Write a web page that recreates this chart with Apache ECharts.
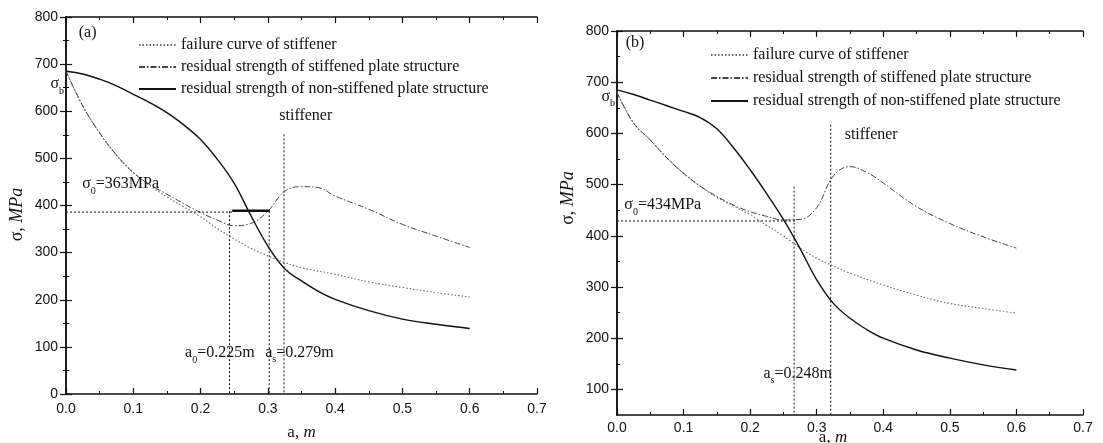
<!DOCTYPE html>
<html>
<head>
<meta charset="utf-8">
<script src="https://cdn.jsdelivr.net/npm/echarts@6/dist/echarts.min.js"></script>
<style>
  html, body { margin: 0; background: #fff; }
  #main { width: 1103px; height: 443px; }
</style>
</head>
<body>
<div id="main"></div>
<script>
var NAMES = [
  'failure curve of stiffener',
  'residual strength of stiffened plate structure',
  'residual strength of non-stiffened plate structure'
];

// panel (a)
var aFailX = [0, 0.025, 0.05, 0.075, 0.1, 0.125, 0.15, 0.175, 0.2, 0.225, 0.25, 0.275, 0.3, 0.325, 0.35, 0.4, 0.45, 0.5, 0.55, 0.6];
var aFailY = [685, 611, 554, 507, 470, 442, 418, 397, 376, 351, 329, 309, 293, 279, 268, 254, 238, 226, 215, 206];
var aStiffX = [0, 0.025, 0.05, 0.075, 0.1, 0.125, 0.15, 0.175, 0.2, 0.225, 0.25, 0.275, 0.3, 0.325, 0.35, 0.375, 0.4, 0.45, 0.5, 0.55, 0.6];
var aStiffY = [685, 611, 554, 507, 470, 444, 424, 404, 385, 369, 357, 362, 388, 430, 440, 438, 420, 392, 360, 335, 311];
var aPlateX = [0, 0.025, 0.05, 0.075, 0.1, 0.125, 0.15, 0.175, 0.2, 0.225, 0.25, 0.275, 0.3, 0.325, 0.35, 0.375, 0.4, 0.45, 0.5, 0.55, 0.6];
var aPlateY = [685, 679, 668, 654, 636, 618, 597, 571, 540, 498, 447, 378, 314, 266, 240, 218, 201, 177, 159, 148, 139];
var aGuides = [
  [[0, 386], [0.25, 386]],
  [[0.243, 388], [0.243, 0]],
  [[0.302, 388], [0.302, 0]],
  [[0.324, 551], [0.324, 0]]
];
var aThick = [[0.247, 389], [0.303, 389]];
// [x, y, text, subscript, rest, side]
var aNotes = [
  [0.016, 766, '(a)', '', '', 'right'],
  [0, 658, 'σ', 'b', '', 'left'],
  [0.021, 445, 'σ', '0', '=363MPa', 'right'],
  [0.314, 590, 'stiffener', '', '', 'right'],
  [0.174, 87, 'a', '0', '=0.225m', 'right'],
  [0.293, 88, 'a', 's', '=0.279m', 'right']
];

// panel (b)
var bFailX = [0, 0.025, 0.05, 0.075, 0.1, 0.125, 0.15, 0.175, 0.2, 0.225, 0.25, 0.275, 0.3, 0.325, 0.35, 0.4, 0.45, 0.5, 0.55, 0.6];
var bFailY = [680, 620, 587, 552, 522, 497, 475, 458, 441, 420, 400, 376, 356, 341, 327, 304, 284, 268, 258, 249];
var bStiffX = [0, 0.025, 0.05, 0.075, 0.1, 0.125, 0.15, 0.175, 0.2, 0.225, 0.25, 0.275, 0.3, 0.325, 0.35, 0.375, 0.4, 0.45, 0.5, 0.55, 0.6];
var bStiffY = [680, 620, 587, 552, 522, 497, 477, 460, 447, 438, 431, 432, 455, 517, 535, 524, 503, 457, 424, 398, 376];
var bPlateX = [0, 0.025, 0.05, 0.075, 0.1, 0.125, 0.15, 0.175, 0.2, 0.225, 0.25, 0.275, 0.3, 0.325, 0.35, 0.375, 0.4, 0.45, 0.5, 0.55, 0.6];
var bPlateY = [685, 676, 665, 654, 643, 631, 609, 572, 529, 482, 432, 375, 314, 268, 239, 217, 200, 177, 161, 148, 138];
var bGuides = [
  [[0, 429], [0.27, 429]],
  [[0.266, 496], [0.266, 50]],
  [[0.321, 617], [0.321, 50]]
];
var bNotes = [
  [0.01, 776, '(b)', '', '', 'right'],
  [0, 672, 'σ', 'b', '', 'left'],
  [0.008, 460, 'σ', '0', '=434MPa', 'right'],
  [0.339, 597, 'stiffener', '', '', 'right'],
  [0.217, 131, 'a', 's', '=0.248m', 'right']
];

var yTicksB = [100, 200, 300, 400, 500, 600, 700, 800];
var yMinorB = [150, 250, 350, 450, 550, 650, 750];

var SERIF = 'Liberation Serif';
var SANS = 'Liberation Sans';
var INK = '#111';

function zip(xs, ys) {
  return xs.map(function (x, i) { return [x, ys[i]]; });
}

function xAxes(grid, gap, pad) {
  var base = {
    gridIndex: grid, type: 'value', min: 0, max: 0.7, interval: 0.1,
    axisLine: { onZero: false, lineStyle: { color: INK, width: 1.5 } },
    axisTick: { inside: true, length: 6, lineStyle: { color: INK, width: 1.2 } },
    minorTick: { show: true, splitNumber: 2, length: 3, lineStyle: { color: INK, width: 1 } },
    splitLine: { show: false }
  };
  return [
    Object.assign({}, base, {
      position: 'bottom',
      axisLabel: { color: INK, fontFamily: SANS, fontSize: 14, margin: grid ? 6 : 8,
        formatter: function (v) { return v.toFixed(1); } },
      name: '{t|a, }{i|m}', nameLocation: 'middle', nameGap: gap, nameMoveOverlap: false,
      nameTextStyle: { padding: pad, rich: {
        t: { fontFamily: SERIF, fontSize: 17, color: INK },
        i: { fontFamily: SERIF, fontSize: 17, fontStyle: 'italic', color: INK } } }
    }),
    Object.assign({}, base, { position: 'top', axisLabel: { show: false } })
  ];
}

function yName(pad) {
  return {
    name: '{t|σ, }{i|MPa}', nameLocation: 'middle', nameGap: 40,
    nameTextStyle: { padding: pad, rich: {
      t: { fontFamily: SERIF, fontSize: 18, color: INK },
      i: { fontFamily: SERIF, fontSize: 18, fontStyle: 'italic', color: INK } } }
  };
}

var yLine = { show: true, lineStyle: { color: INK, width: 1.5 } };
var yLabel = { color: INK, fontFamily: SANS, fontSize: 14, margin: 8 };

var yAxes = [
  Object.assign({
    gridIndex: 0, type: 'value', min: 0, max: 800, interval: 100, position: 'left',
    axisLine: yLine, axisLabel: yLabel,
    axisTick: { inside: true, length: 6, lineStyle: { color: INK, width: 1.2 } },
    minorTick: { show: true, splitNumber: 2, length: 3, lineStyle: { color: INK } },
    splitLine: { show: false }
  }, yName([0, 18, 0, 0])),
  {
    gridIndex: 0, type: 'value', min: 0, max: 800, interval: 100, position: 'right',
    axisLine: yLine, axisLabel: { show: false },
    axisTick: { inside: true, length: 6, lineStyle: { color: INK, width: 1.2 } },
    minorTick: { show: true, splitNumber: 2, length: 3, lineStyle: { color: INK } },
    splitLine: { show: false }
  },
  Object.assign({
    gridIndex: 1, type: 'value', min: 50, max: 800, position: 'left',
    axisLine: yLine,
    axisLabel: Object.assign({ customValues: yTicksB }, yLabel),
    axisTick: { inside: true, length: 6, customValues: yTicksB, lineStyle: { color: INK, width: 1.2 } },
    splitLine: { show: false }
  }, yName([0, 0, 0, 50])),
  {
    gridIndex: 1, type: 'value', min: 50, max: 800, position: 'right',
    axisLine: yLine, axisLabel: { show: false },
    axisTick: { inside: true, length: 6, customValues: yTicksB, lineStyle: { color: INK, width: 1.2 } },
    splitLine: { show: false }
  },
  {
    gridIndex: 1, type: 'value', min: 50, max: 800, position: 'left',
    axisLine: { show: false }, axisLabel: { show: false },
    axisTick: { inside: true, length: 3, customValues: yMinorB, lineStyle: { color: INK } },
    splitLine: { show: false }
  }
];

var STYLES = [
  { color: '#6a6a6a', width: 1.1, type: [1.5, 2] },
  { color: '#444', width: 1, type: [6, 2, 1.5, 2] },
  { color: INK, width: 1.4, type: 'solid' }
];

function curve(name, i, xi, yi, xs, ys) {
  return {
    name: name, type: 'line', xAxisIndex: xi, yAxisIndex: yi,
    data: zip(xs, ys), smooth: 0.4, symbol: 'none', silent: true,
    lineStyle: STYLES[i], itemStyle: { color: STYLES[i].color }, z: 3
  };
}

function guides(list, xi, yi) {
  return list.map(function (seg) {
    return {
      type: 'line', xAxisIndex: xi, yAxisIndex: yi, data: seg, symbol: 'none', silent: true,
      lineStyle: { color: INK, width: 1, type: [2, 2] }, z: 2
    };
  });
}

var rich = {
  n: { fontFamily: SERIF, fontSize: 16, color: INK },
  s: { fontFamily: SERIF, fontSize: 10, color: INK, padding: [14, 0, 0, 0] }
};

function notes(list, xi, yi) {
  return {
    type: 'scatter', xAxisIndex: xi, yAxisIndex: yi, symbolSize: 0, silent: true, z: 5,
    itemStyle: { color: INK, opacity: 1 },
    data: list.map(function (n) {
      var txt = '{n|' + n[2] + '}' + (n[3] ? '{s|' + n[3] + '}' : '') + (n[4] ? '{n|' + n[4] + '}' : '');
      return { value: [n[0], n[1]], label: { formatter: txt, position: n[5] } };
    }),
    label: { show: true, distance: 2, color: INK, opacity: 1, textBorderWidth: 0, rich: rich }
  };
}

var series = [];
series.push(curve(NAMES[0], 0, 0, 0, aFailX, aFailY));
series.push(curve(NAMES[1], 1, 0, 0, aStiffX, aStiffY));
series.push(curve(NAMES[2], 2, 0, 0, aPlateX, aPlateY));
series = series.concat(guides(aGuides, 0, 0));
series.push({
  type: 'line', xAxisIndex: 0, yAxisIndex: 0, data: aThick, symbol: 'none', silent: true,
  lineStyle: { color: INK, width: 2.6 }, z: 4
});
series.push(notes(aNotes, 0, 0));
series.push(curve(NAMES[0], 0, 2, 2, bFailX, bFailY));
series.push(curve(NAMES[1], 1, 2, 2, bStiffX, bStiffY));
series.push(curve(NAMES[2], 2, 2, 2, bPlateX, bPlateY));
series = series.concat(guides(bGuides, 2, 2));
series.push(notes(bNotes, 2, 2));

function legend(left, top, gap) {
  return {
    data: NAMES, orient: 'vertical', left: left, top: top, itemGap: gap,
    itemWidth: 37, itemHeight: 12, selectedMode: false,
    itemStyle: { opacity: 0 },
    textStyle: { fontFamily: SERIF, fontSize: 16, color: INK }
  };
}

var chart = echarts.init(document.getElementById('main'), null, { renderer: 'canvas' });
chart.setOption({
  animation: false,
  backgroundColor: '#fff',
  grid: [
    { left: 66, top: 17, width: 471, height: 377, outerBoundsMode: 'none' },
    { left: 617, top: 31, width: 466, height: 384, outerBoundsMode: 'none' }
  ],
  legend: [legend(133, 32, 6), legend(705, 42, 7)],
  xAxis: xAxes(0, 30, [0, 0, 0, 0]).concat(xAxes(1, 14, [0, 34, 0, 0])),
  yAxis: yAxes,
  series: series
});
</script>
</body>
</html>
